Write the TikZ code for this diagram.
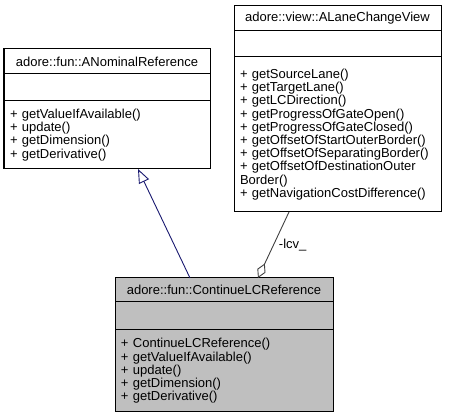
\documentclass[tikz,border=0pt]{standalone}
\usepackage{fontspec}
\setmainfont{Liberation Sans}
\usepackage{xcolor}
\usetikzlibrary{arrows.meta,positioning}
\definecolor{inheritblue}{RGB}{25,25,112}
\definecolor{assocgray}{RGB}{64,64,64}
\definecolor{classgray}{RGB}{191,191,191}

\begin{document}
\begin{tikzpicture}[x=1pt,y=1pt,
    part/.style={draw=black, line width=1pt, fill=white, inner sep=0pt, outer sep=0pt,
      font=\fontsize{13}{13.2}\selectfont},
    head/.style={part, align=center, minimum height=25pt},
    attrs/.style={part, minimum height=27pt},
    ops/.style={part, align=left, inner xsep=6pt},
    current/.style={fill=classgray}]
            \useasboundingbox (0,0) rectangle (451,419);
            % base class
            \node[head, minimum width=206pt, anchor=north west] (nomHead) at (4,370) {adore::fun::ANominalReference};
            \node[attrs, minimum width=206pt, below=0pt of nomHead] (nomAttrs) {};
            \node[ops, text width=194pt, minimum height=68pt, below=0pt of nomAttrs] (nomOps)
                {+ getValueIfAvailable()\\+ update()\\+ getDimension()\\+ getDerivative()};
            % lane change view
            \node[head, minimum width=207pt, anchor=north west] (lcvHead) at (234,413) {adore::view::ALaneChangeView};
            \node[attrs, minimum width=207pt, minimum height=26pt, below=0pt of lcvHead] (lcvAttrs) {};
            \node[ops, text width=195pt, minimum height=155pt, below=0pt of lcvAttrs] (lcvOps)
                {+ getSourceLane()\\+ getTargetLane()\\+ getLCDirection()\\+ getProgressOfGateOpen()\\
                 + getProgressOfGateClosed()\\+ getOffsetOfStartOuterBorder()\\+ getOffsetOfSeparatingBorder()\\
                 + getOffsetOfDestinationOuter\\Border()\\+ getNavigationCostDifference()\par\vspace{7pt}};
            % this class
            \node[head, current, minimum width=218pt, minimum height=24pt, anchor=north west] (clcHead) at (115,141) {adore::fun::ContinueLCReference};
            \node[attrs, current, minimum width=218pt, minimum height=28pt, below=0pt of clcHead] (clcAttrs) {};
            \node[ops, current, text width=206pt, minimum height=82pt, below=0pt of clcAttrs] (clcOps)
                {+ ContinueLCReference()\\+ getValueIfAvailable()\\+ update()\\+ getDimension()\\+ getDerivative()};
            % edges
            \draw[inheritblue, line width=0.9pt, -{Triangle[open, length=14pt, width=11pt, fill=white]}]
                ([xshift=-34pt]clcHead.north) -- ([xshift=31pt]nomOps.south);
            \draw[assocgray, line width=0.9pt, {Diamond[open, length=16pt, width=9pt, fill=white]}-]
                ([xshift=34pt]clcHead.north) -- ([xshift=-48.5pt]lcvOps.south)
                node[midway, right, black, inner sep=5pt, font=\fontsize{13}{13.2}\selectfont] {-lcv\_};
        \end{tikzpicture}
\end{document}
